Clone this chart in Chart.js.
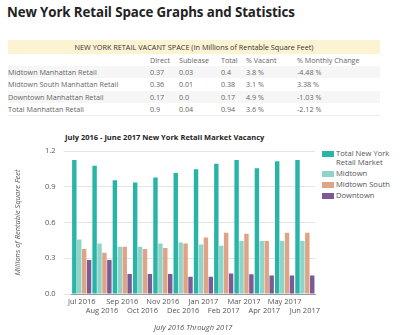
<!DOCTYPE html>
<html>
<head>
<meta charset="utf-8">
<script src="https://cdn.jsdelivr.net/npm/chart.js@4"></script>
<style>
  body { margin: 0; width: 400px; height: 335px; background: #fff; font-family: 'Open Sans', sans-serif; position: relative; overflow: hidden; }
  h1 { position: absolute; left: 7px; top: 3px; margin: 0; font-size: 13.3px; font-weight: 700; color: #222; letter-spacing: -0.1px; }
  table { position: absolute; left: 8px; top: 40px; width: 372px; border-collapse: collapse; font-size: 7.2px; color: #666; border-bottom: 1px solid #eee; }
  td, th { padding: 0; height: 12.4px; font-weight: 400; text-align: left; white-space: nowrap; }
  th.band { background: #fcf3d3; color: #333; text-align: center; height: 13.5px; font-size: 7.3px; }
  tr.alt td { background: #f6f6f6; }
  #title { position: absolute; left: 65px; top: 132px; font: bold 7.5px 'Open Sans', sans-serif; color: #222; }
  #legend { position: absolute; left: 322px; top: 149px; font-size: 7.6px; color: #555; line-height: 9px; }
  #legend div { position: relative; padding-left: 14px; margin-bottom: 2px; }
  #legend span { position: absolute; left: 0; top: 1.5px; width: 12px; height: 6px; }
  #chartBox { position: absolute; left: 0; top: 120px; width: 400px; height: 215px; }
</style>
</head>
<body>
<h1>New York Retail Space Graphs and Statistics</h1>
<table id="stats"></table>
<div id="title">July 2016 - June 2017 New York Retail Market Vacancy</div>
<div id="legend"></div>
<div id="chartBox"><canvas id="vacancyChart"></canvas></div>
<script>
// table data
const tableHeader = ['', 'Direct', 'Sublease', 'Total', '% Vacant', '% Monthly Change'];
const tableRows = [
  ['Midtown Manhattan Retail', '0.37', '0.03', '0.4', '3.8 %', '-4.48 %'],
  ['Midtown South Manhattan Retail', '0.36', '0.01', '0.38', '3.1 %', '3.38 %'],
  ['Downtown Manhattan Retail', '0.17', '0.0', '0.17', '4.9 %', '-1.03 %'],
  ['Total Manhattan Retail', '0.9', '0.04', '0.94', '3.6 %', '-2.12 %']
];
const colWidths = [142, 29, 42, 25, 51, 83];

// chart data
const months = ['Jul 2016', 'Aug 2016', 'Sep 2016', 'Oct 2016', 'Nov 2016', 'Dec 2016',
  'Jan 2017', 'Feb 2017', 'Mar 2017', 'Apr 2017', 'May 2017', 'Jun 2017'];
const totalNY = [1.125, 1.077, 0.955, 0.935, 0.977, 1.016, 1.047, 1.094, 1.125, 1.055, 1.114, 1.125];
const midtown = [0.458, 0.424, 0.396, 0.396, 0.424, 0.433, 0.416, 0.405, 0.444, 0.444, 0.444, 0.444];
const midtownSouth = [0.377, 0.346, 0.396, 0.377, 0.385, 0.424, 0.474, 0.514, 0.505, 0.444, 0.514, 0.514];
const downtown = [0.285, 0.285, 0.167, 0.167, 0.167, 0.145, 0.145, 0.173, 0.165, 0.156, 0.156, 0.156];
const yTicks = [0, 0.3, 0.6, 0.9, 1.2];

const seriesNames = [['Total New York', 'Retail Market'], ['Midtown'], ['Midtown South'], ['Downtown']];
const seriesColors = ['#28b5a7', '#8fd4c9', '#dfa386', '#7a5b94'];

// build table
const tbl = document.getElementById('stats');
let html = '<tr><th class="band" colspan="6">NEW YORK RETAIL VACANT SPACE (In Millions of Rentable Square Feet)</th></tr>';
html += '<tr>' + tableHeader.map((h, i) => `<td style="width:${colWidths[i]}px">${h}</td>`).join('') + '</tr>';
tableRows.forEach((r, i) => {
  html += `<tr class="${i % 2 === 0 ? 'alt' : ''}">` + r.map(c => `<td>${c}</td>`).join('') + '</tr>';
});
tbl.innerHTML = html;

// legend
document.getElementById('legend').innerHTML = seriesNames.map((n, i) =>
  `<div><span style="background:${seriesColors[i]}"></span>${n.join('<br>')}</div>`).join('');

// staggered x labels
const xLabels = months.map((m, i) => i % 2 === 0 ? [m, ''] : ['', m]);

const ctx = document.getElementById('vacancyChart');
new Chart(ctx, {
  type: 'bar',
  data: {
    labels: xLabels,
    datasets: [totalNY, midtown, midtownSouth, downtown].map((d, i) => ({
      label: seriesNames[i].join(' '),
      data: d,
      backgroundColor: seriesColors[i],
      categoryPercentage: 0.97,
      barPercentage: 0.9
    }))
  },
  options: {
    responsive: true,
    maintainAspectRatio: false,
    animation: false,
    layout: { padding: { top: 31, right: 85, left: 13, bottom: 3 } },
    plugins: { legend: { display: false }, tooltip: { enabled: false } },
    scales: {
      x: {
        grid: { display: false, drawTicks: false },
        border: { color: '#999' },
        ticks: { maxRotation: 0, autoSkip: false, color: '#555', font: { size: 7.5, family: 'Open Sans' }, padding: 3 },
        title: { display: true, text: 'July 2016 Through 2017', color: '#555', font: { size: 7.5, style: 'italic', family: 'Open Sans' }, padding: { top: 5, bottom: 0 } }
      },
      y: {
        min: 0, max: 1.2,
        afterBuildTicks: axis => { axis.ticks = yTicks.map(v => ({ value: v })); },
        grid: { color: '#e4e4e4' },
        border: { display: false },
        ticks: { color: '#555', font: { size: 7.5, family: 'Open Sans' }, padding: 8, callback: v => v.toFixed(1) },
        title: { display: true, text: 'Millions of Rentable Square Feet', color: '#555', font: { size: 7.5, style: 'italic', family: 'Open Sans' }, padding: { top: 0, bottom: 15 } }
      }
    }
  }
});
</script>
</body>
</html>
